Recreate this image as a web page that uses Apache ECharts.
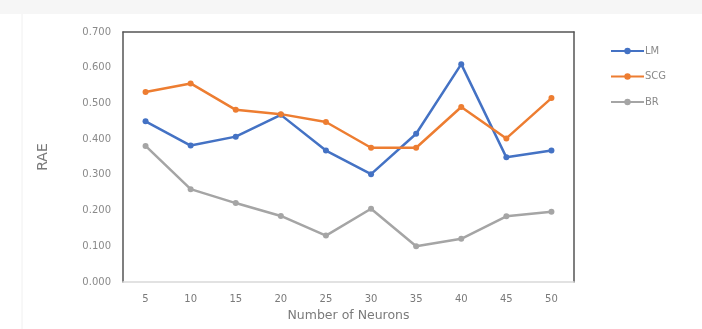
<!DOCTYPE html>
<html>
<head>
<meta charset="utf-8">
<script src="https://cdn.jsdelivr.net/npm/echarts@6/dist/echarts.min.js"></script>
<style>
  html, body { margin: 0; padding: 0; background: #ffffff; }
  #chart { width: 702px; height: 329px; }
</style>
</head>
<body>
<div id="chart"></div>
<script>
// Neuron counts on the x axis
const neurons = ['5', '10', '15', '20', '25', '30', '35', '40', '45', '50'];

// Relative absolute error per training algorithm
const lmValues  = [0.450, 0.382, 0.407, 0.468, 0.368, 0.302, 0.415, 0.610, 0.349, 0.368];
const scgValues = [0.532, 0.556, 0.482, 0.470, 0.448, 0.376, 0.376, 0.490, 0.402, 0.515];
const brValues  = [0.381, 0.260, 0.221, 0.185, 0.130, 0.205, 0.100, 0.121, 0.184, 0.197];

const seriesNames = ['LM', 'SCG', 'BR'];
const seriesColors = ['#4472C4', '#ED7D31', '#A5A5A5'];

const FONT = 'DejaVu Sans, Liberation Sans, sans-serif';
const frameColor = '#555555';

const chart = echarts.init(document.getElementById('chart'), null, { renderer: 'canvas' });

function lineSeries(name, data, color) {
  return {
    name: name,
    type: 'line',
    data: data,
    symbol: 'circle',
    symbolSize: 6,
    lineStyle: { width: 2.5, color: color },
    itemStyle: { color: color },
    emphasis: { disabled: true },
    animation: false
  };
}

chart.setOption({
  animation: false,
  backgroundColor: '#ffffff',
  textStyle: { fontFamily: FONT },
  graphic: [
    {
      type: 'rect',
      left: 0, top: 0,
      shape: { width: 702, height: 14 },
      style: { fill: '#f6f6f6' },
      silent: true
    },
    {
      type: 'line',
      shape: { x1: 22, y1: 14, x2: 22, y2: 329 },
      style: { stroke: '#f0f0f0', lineWidth: 1 },
      silent: true
    }
  ],
  grid: {
    left: 123, right: 128, top: 32, bottom: 47,
    show: false
  },
  legend: {
    orient: 'vertical',
    left: 605,
    top: 41,
    itemWidth: 33,
    itemHeight: 8,
    itemGap: 15.5,
    data: seriesNames,
    textStyle: { color: '#8a8a8a', fontSize: 10, fontFamily: FONT, padding: [0, 0, 0, -4] }
  },
  xAxis: [
    {
      type: 'category',
      data: neurons,
      boundaryGap: true,
      name: 'Number of Neurons',
      nameLocation: 'middle',
      nameGap: 22,
      nameTextStyle: { color: '#7a7a7a', fontSize: 12.5, fontFamily: FONT },
      axisLine: { show: true, onZero: false, lineStyle: { color: '#d9d9d9', width: 1.5 } },
      axisTick: { show: false },
      axisLabel: { color: '#7a7a7a', fontSize: 10, margin: 12, fontFamily: FONT },
      splitLine: { show: false }
    },
    {
      // top edge of the plot frame
      type: 'category',
      data: neurons,
      position: 'top',
      axisLine: { show: true, onZero: false, lineStyle: { color: frameColor, width: 1.5 } },
      axisTick: { show: false },
      axisLabel: { show: false },
      splitLine: { show: false }
    }
  ],
  yAxis: [
    {
      type: 'value',
      min: 0,
      max: 0.7,
      interval: 0.1,
      name: 'RAE',
      nameLocation: 'middle',
      nameGap: 73,
      nameRotate: 90,
      nameTextStyle: { color: '#7a7a7a', fontSize: 14, fontFamily: FONT },
      axisLine: { show: true, onZero: false, lineStyle: { color: frameColor, width: 1.5 } },
      axisTick: { show: false },
      axisLabel: {
        color: '#8a8a8a',
        fontSize: 10,
        margin: 12,
        fontFamily: FONT,
        formatter: v => v.toFixed(3)
      },
      splitLine: { show: false }
    },
    {
      // right edge of the plot frame
      type: 'value',
      min: 0,
      max: 0.7,
      interval: 0.1,
      position: 'right',
      axisLine: { show: true, onZero: false, lineStyle: { color: frameColor, width: 1.5 } },
      axisTick: { show: false },
      axisLabel: { show: false },
      splitLine: { show: false }
    }
  ],
  series: [
    lineSeries(seriesNames[0], lmValues, seriesColors[0]),
    lineSeries(seriesNames[1], scgValues, seriesColors[1]),
    lineSeries(seriesNames[2], brValues, seriesColors[2])
  ]
});
</script>
</body>
</html>
